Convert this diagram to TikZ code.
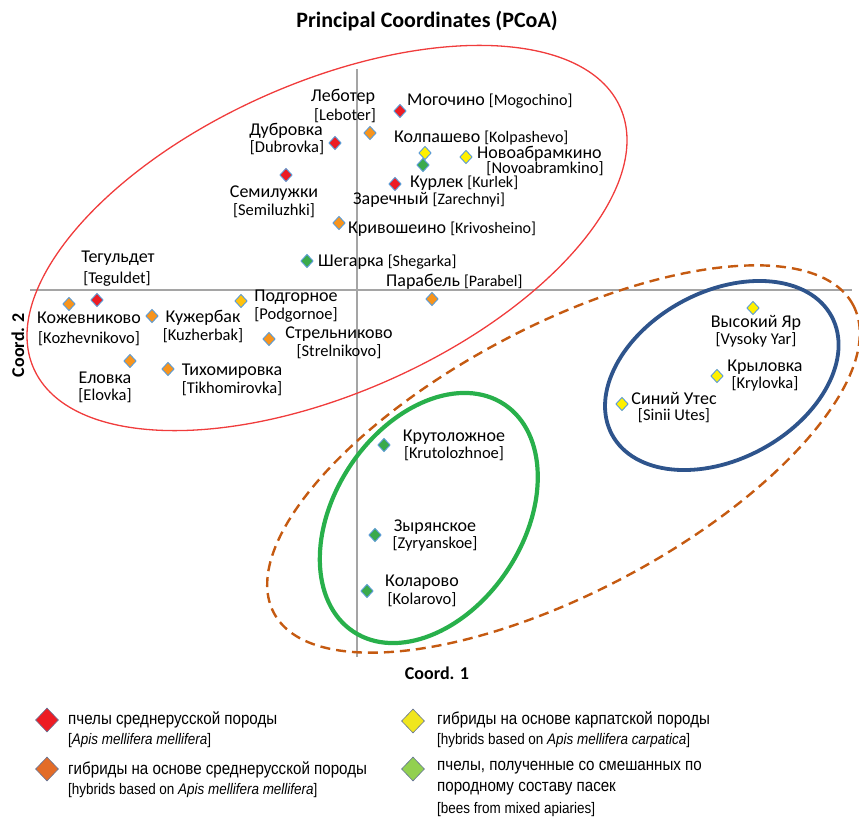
\documentclass[tikz,border=0pt]{standalone}
\usepackage{fontspec}
\setmainfont{Carlito}
\newfontfamily\legfont[FakeStretch=0.88]{Liberation Sans}
\usetikzlibrary{shapes.geometric}
\definecolor{mred}{RGB}{237,28,36}
\definecolor{morange}{RGB}{247,148,29}
\definecolor{myellow}{RGB}{255,240,0}
\definecolor{mgreen}{RGB}{58,170,75}
\definecolor{mgold}{RGB}{255,194,14}
\definecolor{mborder}{RGB}{91,155,213}
\definecolor{ellred}{RGB}{240,60,60}
\definecolor{elldash}{RGB}{197,90,17}
\definecolor{ellblue}{RGB}{46,84,140}
\definecolor{ellgreen}{RGB}{40,176,75}
\definecolor{axisgray}{RGB}{165,165,165}
\definecolor{lred}{RGB}{237,28,36}
\definecolor{lorange}{RGB}{227,108,40}
\definecolor{lyellow}{RGB}{240,230,30}
\definecolor{lgreen}{RGB}{146,208,80}
\definecolor{lborder}{RGB}{100,115,150}
\newcommand\latsz{\fontsize{16}{18}\selectfont}
\newcommand\latszb{\fontsize{16.5}{18}\selectfont}
\newcommand\cyrsz{\fontsize{18}{20}\selectfont}
\tikzset{
  mk/.style={diamond, draw=mborder, line width=0.9pt, inner sep=0pt, minimum width=12.5pt, minimum height=13.5pt},
  lmk/.style={diamond, draw=lborder, line width=0.6pt, inner sep=0pt, minimum width=23pt, minimum height=24pt},
  nm/.style={inner sep=0pt, font=\cyrsz},
  lt/.style={inner sep=0pt, font=\latszb},
  leg/.style={inner sep=0pt, anchor=west, font=\legfont\fontsize{17.2}{19}\selectfont},
  legl/.style={inner sep=0pt, anchor=west, font=\legfont\fontsize{15.3}{17}\selectfont},
  axislbl/.style={inner sep=0pt, font=\bfseries\fontsize{18}{20}\selectfont},
  axisline/.style={draw=axisgray, line width=1.3pt}
}
\begin{document}
\begin{tikzpicture}[x=1pt,y=-1pt]
\useasboundingbox (0,0) rectangle (859,818);
% title
\node[inner sep=0pt, font=\bfseries\fontsize{22}{24}\selectfont] (title) at (427,21) {Principal Coordinates (PCoA)};
% axes
\coordinate (hx1) at (30,290); \coordinate (hx2) at (852,290);
\coordinate (vy1) at (357,69); \coordinate (vy2) at (357,657);
\draw[axisline] (hx1) -- (hx2);
\draw[axisline] (vy1) -- (vy2);
\node[axislbl] (c1) at (437,673) {Coord. 1};
\node[axislbl, rotate=90] (c2) at (18,345) {Coord. 2};
% ellipses
\draw[ellred, line width=1.3pt, rotate around={24:(327,238)}] (327,238) ellipse [x radius=321, y radius=155];
\draw[elldash, line width=2.4pt, dash pattern=on 10pt off 6pt, rotate around={28:(563.5,459)}] (563.5,459) ellipse [x radius=328, y radius=133];
\draw[ellblue, line width=3.8pt, rotate around={28.3:(721.8,375.5)}] (721.8,375.5) ellipse [x radius=124.7, y radius=83.8];
\draw[ellgreen, line width=4.2pt, rotate around={56.4:(428.8,518)}] (428.8,518) ellipse [x radius=136.4, y radius=94.4];
% markers
\node[mk, fill=mred] (mogM) at (400,111) {};
\node[mk, fill=morange] (lebM) at (370,133) {};
\node[mk, fill=mred] (dubM) at (335,143) {};
\node[mk, fill=myellow] (kolpY) at (425,153) {};
\node[mk, fill=mgreen] (kolpG) at (423,165) {};
\node[mk, fill=myellow] (novM) at (466,157) {};
\node[mk, fill=mred] (kurM) at (395,184) {};
\node[mk, fill=mred] (semM) at (286,175) {};
\node[mk, fill=morange] (kriM) at (339,223) {};
\node[mk, fill=mgreen] (shegM) at (307,261) {};
\node[mk, fill=morange] (parM) at (432,299) {};
\node[mk, fill=morange] (kozM) at (69,304) {};
\node[mk, fill=mred] (tegM) at (97,300) {};
\node[mk, fill=morange] (kuzM) at (152,316) {};
\node[mk, fill=mgold] (podM) at (241,301) {};
\node[mk, fill=morange] (strM) at (269,339) {};
\node[mk, fill=morange] (eloM) at (130,361) {};
\node[mk, fill=morange] (tikM) at (168,369) {};
\node[mk, fill=myellow] (vysM) at (753,308) {};
\node[mk, fill=myellow] (kryM) at (717,376) {};
\node[mk, fill=myellow] (sinM) at (622,404) {};
\node[mk, fill=mgreen] (kruM) at (384,445) {};
\node[mk, fill=mgreen] (zyrM) at (375,535) {};
\node[mk, fill=mgreen] (kolaM) at (367,591) {};
% labels
\node[nm] (leb1) at (343,97) {Леботер};
\node[lt] (leb2) at (345,116) {[Leboter]};
\node[nm, anchor=west] (mog1) at (407,101) {Могочино {\latsz[Mogochino]}};
\node[nm, anchor=west] (kolp1) at (394,138) {Колпашево {\latsz[Kolpashevo]}};
\node[nm, anchor=west] (nov1) at (477,154) {Новоабрамкино};
\node[lt] (nov2) at (545,169) {[Novoabramkino]};
\node[nm] (dub1) at (286,131) {Дубровка};
\node[lt] (dub2) at (287,148) {[Dubrovka]};
\node[nm] (sem1) at (274,193) {Семилужки};
\node[lt] (sem2) at (274,211) {[Semiluzhki]};
\node[nm, anchor=west] (kur1) at (410,183) {Курлек {\latsz[Kurlek]}};
\node[nm, anchor=west] (zar1) at (353,199.5) {Заречный {\latsz[Zarechnyi]}};
\node[nm, anchor=west] (kri1) at (348,229) {Кривошеино {\latsz[Krivosheino]}};
\node[nm, anchor=west] (sheg1) at (318,262) {Шегарка {\latsz[Shegarka]}};
\node[nm, anchor=west] (par1) at (386,282) {Парабель {\latsz[Parabel]}};
\node[nm] (teg1) at (118,258) {Тегульдет};
\node[lt] (teg2) at (117,279) {[Teguldet]};
\node[nm] (koz1) at (89,318) {Кожевниково};
\node[lt] (koz2) at (89,339) {[Kozhevnikovo]};
\node[nm] (kuz1) at (203,318) {Кужербак};
\node[lt] (kuz2) at (203,336) {[Kuzherbak]};
\node[nm] (pod1) at (296,297) {Подгорное};
\node[lt] (pod2) at (296,315) {[Podgornoe]};
\node[nm] (str1) at (339,334) {Стрельниково};
\node[lt] (str2) at (339,352) {[Strelnikovo]};
\node[nm] (elo1) at (105,378) {Еловка};
\node[lt] (elo2) at (105,396) {[Elovka]};
\node[nm] (tik1) at (232,371) {Тихомировка};
\node[lt] (tik2) at (232,389) {[Tikhomirovka]};
\node[nm] (vys1) at (756,323) {Высокий Яр};
\node[lt] (vys2) at (756,340) {[Vysoky Yar]};
\node[nm] (kry1) at (765,367) {Крыловка};
\node[lt] (kry2) at (765,384) {[Krylovka]};
\node[nm] (sin1) at (674,398) {Синий Утес};
\node[lt] (sin2) at (674,416) {[Sinii Utes]};
\node[nm] (kru1) at (454,437) {Крутоложное};
\node[lt] (kru2) at (454,454) {[Krutolozhnoe]};
\node[nm] (zyr1) at (435,527) {Зырянское};
\node[lt] (zyr2) at (435,544) {[Zyryanskoe]};
\node[nm] (kola1) at (422,582) {Коларово};
\node[lt] (kola2) at (422,600) {[Kolarovo]};
% legend
\node[lmk, fill=lred] (lgR) at (47,720) {};
\node[leg] (lgR1) at (68,720) {пчелы среднерусской породы};
\node[legl] (lgR2) at (68,741) {[\textit{Apis mellifera mellifera}]};
\node[lmk, fill=lorange] (lgO) at (47,769) {};
\node[leg] (lgO1) at (68,770) {гибриды на основе среднерусской породы};
\node[legl] (lgO2) at (68,791) {[hybrids based on \textit{Apis mellifera mellifera}]};
\node[lmk, fill=lyellow] (lgY) at (413,721) {};
\node[leg] (lgY1) at (437,720) {гибриды на основе карпатской породы};
\node[legl] (lgY2) at (437,741) {[hybrids based on \textit{Apis mellifera carpatica}]};
\node[lmk, fill=lgreen] (lgG) at (413,769) {};
\node[leg] (lgG1) at (437,768) {пчелы, полученные со смешанных по};
\node[leg] (lgG2) at (437,789) {породному составу пасек};
\node[legl] (lgG3) at (437,810) {[bees from mixed apiaries]};
\end{tikzpicture}
\end{document}
